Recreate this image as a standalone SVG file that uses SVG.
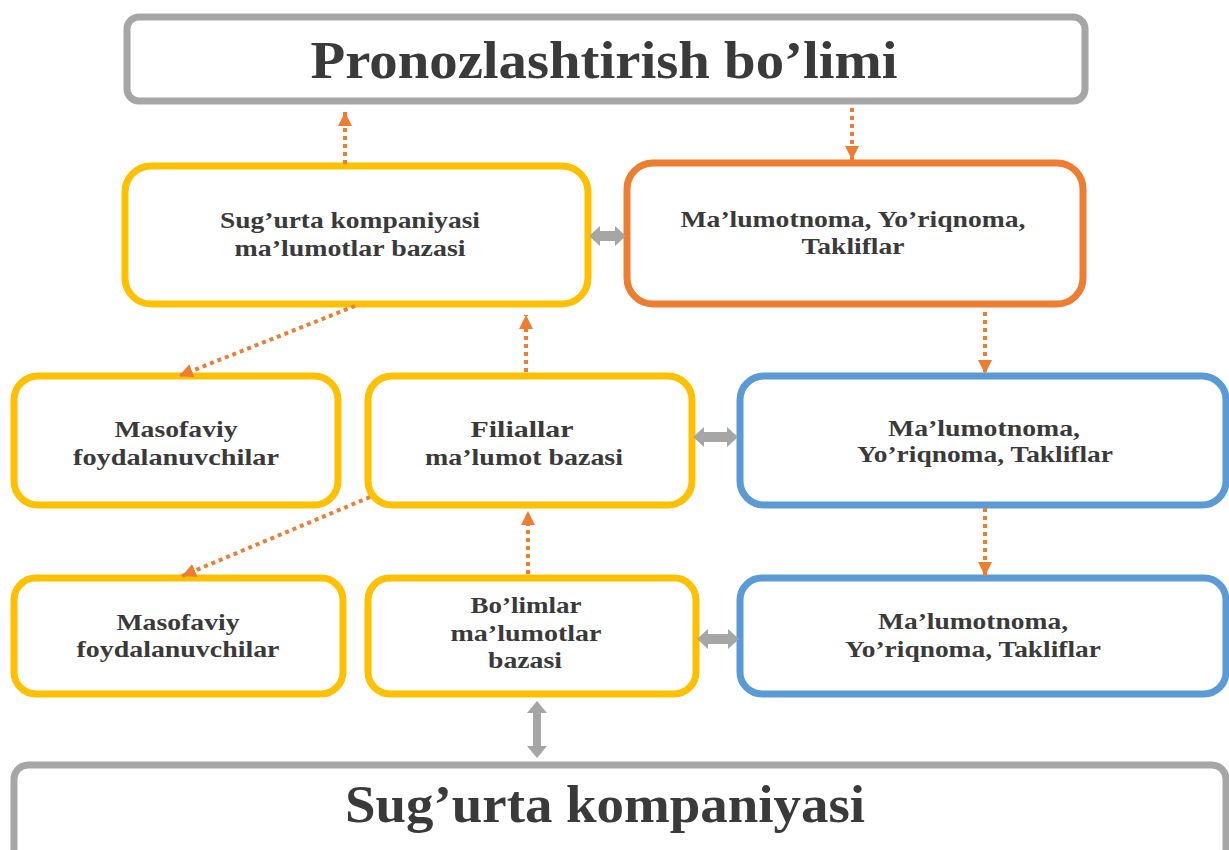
<svg xmlns="http://www.w3.org/2000/svg" width="1229" height="850" viewBox="0 0 1229 850">
<style>
.box{fill:#fff;stroke-width:7}
.gray{stroke:#A6A6A6}
.yel{stroke:#FFC000}
.org{stroke:#ED7D31}
.blu{stroke:#5B9BD5}
.t{font-family:"Liberation Serif","DejaVu Serif",serif;font-weight:bold;fill:#3a3a3a;text-anchor:middle}
.s{font-size:23.5px}
.b{font-size:52px}
.dot{stroke:#ED7D31;stroke-width:4;stroke-dasharray:4 4;fill:none}
.ga{fill:#A6A6A6}
</style>
<defs>
<marker id="ah" markerUnits="userSpaceOnUse" markerWidth="16" markerHeight="16" viewBox="0 0 16 16" refX="14" refY="8" orient="auto">
<path d="M0,1 L14,8 L0,15 Z" fill="#ED7D31"/>
</marker>
</defs>
<rect width="1229" height="850" fill="#fff"/>

<g id="top">
<rect class="box gray" x="127" y="17" width="958" height="84" rx="12"/>
<text class="t b" x="604" y="78" textLength="587" lengthAdjust="spacingAndGlyphs">Pronozlashtirish bo’limi</text>
</g>

<g id="db-company">
<rect class="box yel" x="125" y="166" width="463" height="138" rx="26"/>
<text class="t s" x="350" y="228" textLength="260" lengthAdjust="spacingAndGlyphs">Sug’urta kompaniyasi</text>
<text class="t s" x="350" y="256" textLength="231" lengthAdjust="spacingAndGlyphs">ma’lumotlar bazasi</text>
</g>

<g id="info-top">
<rect class="box org" x="627" y="163" width="456" height="141" rx="26"/>
<text class="t s" x="853" y="227" textLength="345" lengthAdjust="spacingAndGlyphs">Ma’lumotnoma, Yo’riqnoma,</text>
<text class="t s" x="853" y="254" textLength="103" lengthAdjust="spacingAndGlyphs">Takliflar</text>
</g>

<g id="remote1">
<rect class="box yel" x="14" y="376" width="324" height="129" rx="24"/>
<text class="t s" x="176" y="437" textLength="123" lengthAdjust="spacingAndGlyphs">Masofaviy</text>
<text class="t s" x="176" y="465" textLength="206" lengthAdjust="spacingAndGlyphs">foydalanuvchilar</text>
</g>

<g id="branches">
<rect class="box yel" x="368" y="376" width="324" height="129" rx="24"/>
<text class="t s" x="522" y="437" textLength="103" lengthAdjust="spacingAndGlyphs">Filiallar</text>
<text class="t s" x="524" y="465" textLength="198" lengthAdjust="spacingAndGlyphs">ma’lumot bazasi</text>
</g>

<g id="info-mid">
<rect class="box blu" x="740" y="376" width="486" height="129" rx="24"/>
<text class="t s" x="984" y="436" textLength="192" lengthAdjust="spacingAndGlyphs">Ma’lumotnoma,</text>
<text class="t s" x="985" y="462" textLength="256" lengthAdjust="spacingAndGlyphs">Yo’riqnoma, Takliflar</text>
</g>

<g id="remote2">
<rect class="box yel" x="14" y="578" width="329" height="116" rx="22"/>
<text class="t s" x="178" y="630" textLength="123" lengthAdjust="spacingAndGlyphs">Masofaviy</text>
<text class="t s" x="178" y="657" textLength="203" lengthAdjust="spacingAndGlyphs">foydalanuvchilar</text>
</g>

<g id="departments">
<rect class="box yel" x="368" y="578" width="328" height="116" rx="22"/>
<text class="t s" x="526" y="613" textLength="111" lengthAdjust="spacingAndGlyphs">Bo’limlar</text>
<text class="t s" x="526" y="641" textLength="151" lengthAdjust="spacingAndGlyphs">ma’lumotlar</text>
<text class="t s" x="525" y="668" textLength="74" lengthAdjust="spacingAndGlyphs">bazasi</text>
</g>

<g id="info-bottom">
<rect class="box blu" x="740" y="578" width="486" height="116" rx="22"/>
<text class="t s" x="973" y="629" textLength="190" lengthAdjust="spacingAndGlyphs">Ma’lumotnoma,</text>
<text class="t s" x="973" y="657" textLength="256" lengthAdjust="spacingAndGlyphs">Yo’riqnoma, Takliflar</text>
</g>

<g id="company">
<rect class="box gray" x="14" y="765" width="1212" height="110" rx="14"/>
<text class="t b" x="605" y="822" textLength="520" lengthAdjust="spacingAndGlyphs">Sug’urta kompaniyasi</text>
</g>

<g id="connectors">
<line class="dot" x1="345" y1="164" x2="345" y2="112" marker-end="url(#ah)"/>
<line class="dot" x1="852" y1="108" x2="852" y2="160" marker-end="url(#ah)"/>
<line class="dot" x1="355" y1="306" x2="179" y2="376" marker-end="url(#ah)"/>
<line class="dot" x1="526" y1="372" x2="526" y2="315" marker-end="url(#ah)"/>
<line class="dot" x1="985" y1="312" x2="985" y2="374" marker-end="url(#ah)"/>
<line class="dot" x1="370" y1="497" x2="182" y2="576" marker-end="url(#ah)"/>
<line class="dot" x1="528" y1="574" x2="528" y2="511" marker-end="url(#ah)"/>
<line class="dot" x1="985" y1="508" x2="985" y2="576" marker-end="url(#ah)"/>
<polygon class="ga" points="589,236 600,226 600,231 615,231 615,226 626,236 615,246 615,241 600,241 600,246"/>
<polygon class="ga" points="693,437 704,427 704,432 727,432 727,427 738,437 727,447 727,442 704,442 704,447"/>
<polygon class="ga" points="697,639 708,629 708,634 728,634 728,629 739,639 728,649 728,644 708,644 708,649"/>
<polygon class="ga" points="537,701 547,713 541,713 541,746 547,746 537,758 527,746 533,746 533,713 527,713"/>
</g>
</svg>
